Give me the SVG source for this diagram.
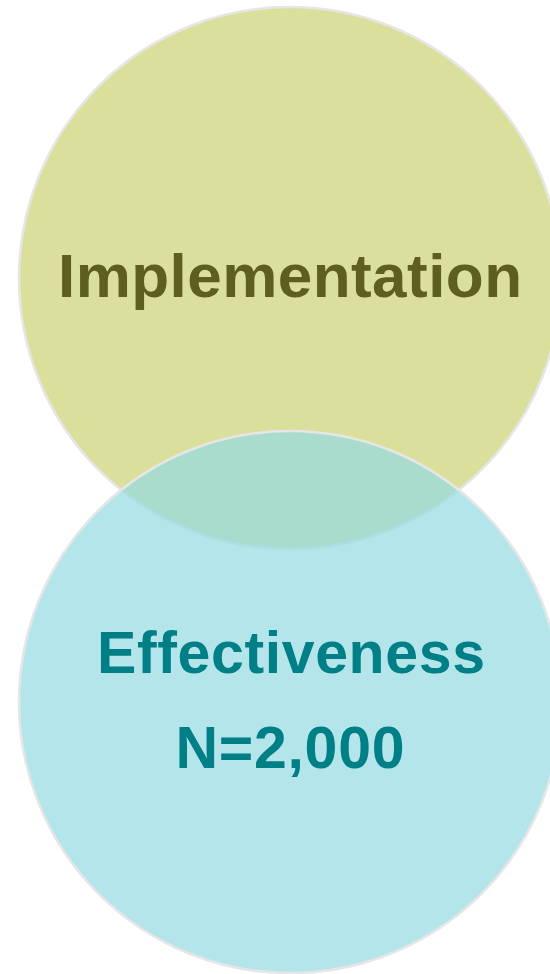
<svg xmlns="http://www.w3.org/2000/svg" width="550" height="974" viewBox="0 0 550 974">
<style>
.circ{stroke:#E6E6E6;stroke-width:2.5}
.lbl{font-family:"Liberation Sans",Arial,sans-serif;font-weight:bold;text-anchor:middle}
</style>
<rect width="550" height="974" fill="#FFFFFF"/>
<g id="implementation">
<circle class="circ" cx="290" cy="278" r="271" fill="#DBDF9C"/>
<text class="lbl" x="290" y="297" font-size="62" fill="#5E5E1E" textLength="464" lengthAdjust="spacing">Implementation</text>
</g>
<g id="effectiveness">
<circle class="circ" cx="290" cy="702" r="271" fill="#94DAE1" fill-opacity="0.71"/>
<text class="lbl" x="291" y="673" font-size="59" fill="#007F87" textLength="388" lengthAdjust="spacing">Effectiveness</text>
<text class="lbl" x="290" y="768" font-size="59" fill="#007F87" textLength="229" lengthAdjust="spacing">N=2,000</text>
</g>
<g id="connectors"/>
</svg>
